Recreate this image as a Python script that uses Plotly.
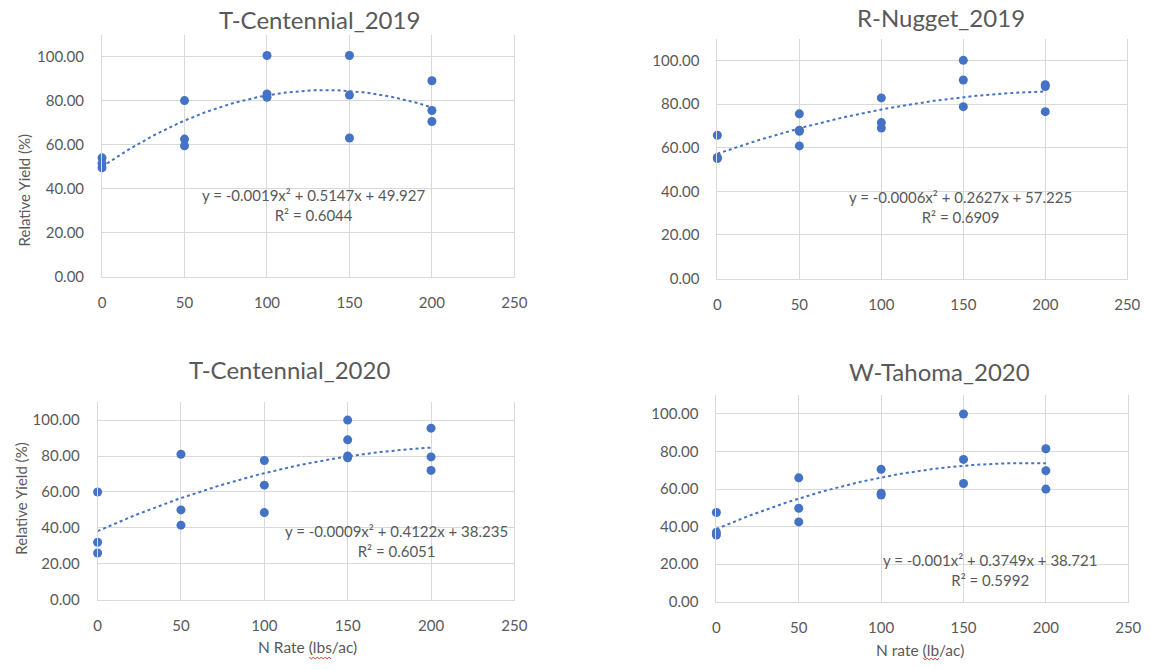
import numpy as np
import plotly.graph_objects as go

titles = ["T-Centennial_2019", "R-Nugget_2019", "T-Centennial_2020", "W-Tahoma_2020"]

p1_x = [0, 0, 0, 50, 50, 50, 100, 100, 100, 150, 150, 150, 200, 200, 200]
p1_y = [54, 51.5, 49.5, 80, 62.5, 59.5, 100.5, 83, 81.5, 100.5, 82.5, 63, 89, 75.5, 70.5]

p2_x = [0, 0, 0, 50, 50, 50, 50, 100, 100, 100, 150, 150, 150, 200, 200, 200]
p2_y = [65.7, 55, 55.5, 75.5, 68, 67.5, 60.8, 82.8, 71.5, 69, 100, 91, 78.8, 88.8, 88, 76.5]

p3_x = [0, 0, 0, 50, 50, 50, 100, 100, 100, 150, 150, 150, 150, 200, 200, 200]
p3_y = [60, 32, 26, 81, 50, 41.5, 77.5, 63.8, 48.5, 100, 89, 80, 79, 95.5, 79.5, 72]

p4_x = [0, 0, 0, 50, 50, 50, 100, 100, 100, 150, 150, 150, 200, 200, 200]
p4_y = [47.5, 37, 35.5, 66, 49.8, 42.5, 70.5, 57.8, 56.8, 100, 75.8, 63, 81.5, 69.8, 60]

coef1 = [-0.0019, 0.5147, 49.927]
coef2 = [-0.0006, 0.2627, 57.225]
coef3 = [-0.0009, 0.4122, 38.235]
coef4 = [-0.001, 0.3749, 38.721]

eq_texts = [
    "y = -0.0019x² + 0.5147x + 49.927<br>R² = 0.6044",
    "y = -0.0006x² + 0.2627x + 57.225<br>R² = 0.6909",
    "y = -0.0009x² + 0.4122x + 38.235<br>R² = 0.6051",
    "y = -0.001x² + 0.3749x + 38.721<br>R² = 0.5992",
]

W, H = 1158, 669
BLUE = "#4472C4"
GRID = "#d9d9d9"
TXT = "#595959"
FONT = "Lato"

# plot areas in pixels: left, right, top, bottom
areas = [
    (99.5, 518, 35, 280),
    (724, 1140, 39, 282),
    (95, 518, 407, 607),
    (723, 1141, 400, 609),
]
title_pos = [(320, 20), (951, 18), (290, 374), (949, 376)]
eq_pos = [(314, 207), (971, 209), (398, 548), (1001, 577)]

data = [(p1_x, p1_y, coef1), (p2_x, p2_y, coef2), (p3_x, p3_y, coef3), (p4_x, p4_y, coef4)]

fig = go.Figure()
layout = dict(
    width=W, height=H, margin=dict(l=0, r=0, t=0, b=0),
    paper_bgcolor="white", plot_bgcolor="white", showlegend=False,
    font=dict(family=FONT, color=TXT),
)
annotations = []


def note(px, py, text, size, angle=0):
    return dict(x=px / W, y=1 - py / H, xref="paper", yref="paper", text=text,
                showarrow=False, textangle=angle, xanchor="center", yanchor="middle",
                align="center", font=dict(size=size, color=TXT, family=FONT))


for i, ((xs, ys, c), (l, r, t, b)) in enumerate(zip(data, areas)):
    k = "" if i == 0 else str(i + 1)
    xa, ya = "x" + k, "y" + k
    xx = np.linspace(0, 200, 101)
    yy = np.polyval(c, xx)
    fig.add_trace(go.Scatter(x=xx, y=yy, mode="lines", xaxis=xa, yaxis=ya,
                             line=dict(color=BLUE, width=2, dash="dot"), hoverinfo="skip"))
    fig.add_trace(go.Scatter(x=xs, y=ys, mode="markers", xaxis=xa, yaxis=ya, cliponaxis=False,
                             marker=dict(color=BLUE, size=9)))
    layout["xaxis" + k] = dict(
        domain=[l / W, r / W], anchor=ya, range=[0, 250], tickmode="linear", tick0=0, dtick=50,
        showgrid=True, gridcolor=GRID, zeroline=False, showline=True, linecolor=GRID,
        tickfont=dict(size=15, color=TXT, family=FONT), ticklabelstandoff=12,
    )
    layout["yaxis" + k] = dict(
        domain=[1 - b / H, 1 - t / H], anchor=xa, range=[0, 110], tickmode="linear", tick0=0, dtick=20,
        tickformat=".2f", showgrid=True, gridcolor=GRID, zeroline=False, showline=True,
        mirror=True, linecolor=GRID,
        tickfont=dict(size=15, color=TXT, family=FONT), ticklabelstandoff=14,
    )
    tx, ty = title_pos[i]
    annotations.append(note(tx, ty, titles[i], 24))
    ex, ey = eq_pos[i]
    annotations.append(note(ex, ey, eq_texts[i], 15))

annotations.append(note(20, 193, "Relative Yield (%)", 15, -90))
annotations.append(note(17, 505, "Relative Yield (%)", 15, -90))
annotations.append(note(308, 655, "N Rate (lbs/ac)", 15.5))
annotations.append(note(930, 658, "N rate (lb/ac)", 15.5))
layout["annotations"] = annotations


def squiggle(x0, x1, y):
    pts = []
    xs = np.arange(x0, x1 + 0.1, 2.0)
    for j, xv in enumerate(xs):
        yv = y + (1 if j % 2 else -1)
        pts.append(("M" if j == 0 else "L") + f"{xv / W:.5f},{1 - yv / H:.5f}")
    return " ".join(pts)


layout["shapes"] = [
    dict(type="path", xref="paper", yref="paper", path=squiggle(310, 332, 666),
         line=dict(color="#e03030", width=1)),
    dict(type="path", xref="paper", yref="paper", path=squiggle(933, 950, 667),
         line=dict(color="#e03030", width=1)),
]
fig.update_layout(**layout)
fig.write_html("out.html")
